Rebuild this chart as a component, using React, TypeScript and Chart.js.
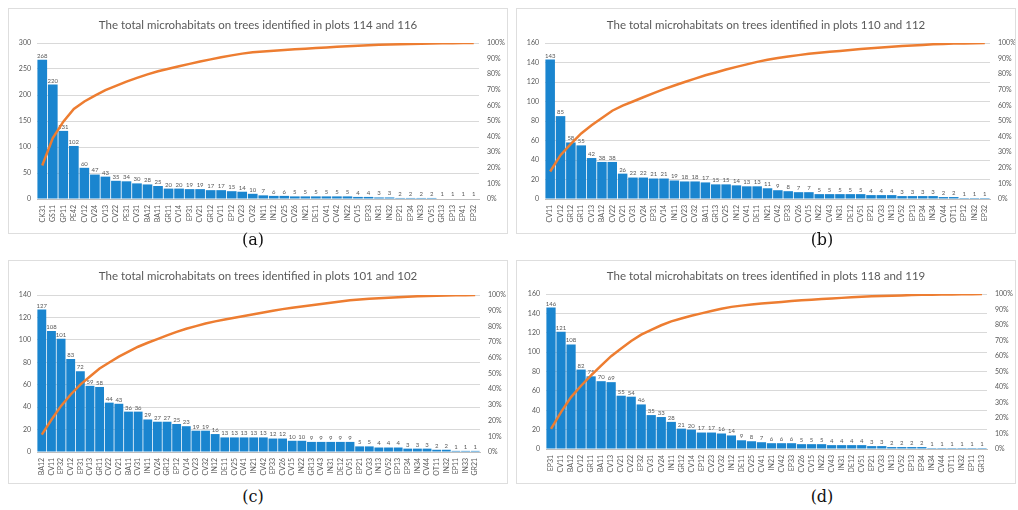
import React, { useEffect, useRef } from "react";
import { Chart, registerables } from "chart.js";
Chart.register(...registerables);
Chart.defaults.font.family = "Lato, 'Liberation Sans', sans-serif";

const titleA = "The total microhabitats on trees identified in plots 114 and 116";
const titleB = "The total microhabitats on trees identified in plots 110 and 112";
const titleC = "The total microhabitats on trees identified in plots 101 and 102";
const titleD = "The total microhabitats on trees identified in plots 118 and 119";

const catsA = ["CK31","GS11","GP11","PE42","CV12","CV24","CV13","CV22","PE31","CV31","BA12","BA11","GR11","CV14","EP31","CV21","GR12","CV11","EP12","CV23","CV32","IN11","IN12","CV25","CV26","IN21","DE11","CV41","CV42","IN22","CV15","EP33","IN31","IN32","EP21","EP34","IN33","CV51","GR13","EP13","EP41","EP32"];
const valsA = [268,220,131,102,60,47,43,35,34,30,28,25,20,20,19,19,17,17,15,14,10,7,6,6,5,5,5,5,5,5,4,4,3,3,2,2,2,2,1,1,1,1];

const catsB = ["CV11","CV12","GR12","GR11","CV13","BA12","CV22","CV21","CV31","CV24","EP31","CV14","IN11","CV23","CV32","BA11","GR13","CV25","IN12","CV41","DE11","IN21","CV42","EP33","CV26","CV15","IN22","CV43","IN31","DE12","CV51","EP21","CV33","IN13","CV52","EP13","EP34","IN34","CV44","OT11","EP12","IN32","EP32"];
const valsB = [143,85,58,55,42,38,38,26,22,22,21,21,19,18,18,17,15,15,14,13,13,11,9,8,7,7,5,5,5,5,5,4,4,4,3,3,3,3,2,2,1,1,1];

const catsC = ["BA12","CV11","EP32","CV12","EP31","CV13","GR11","CV22","CV21","BA11","CV31","IN11","CV24","GR12","EP12","CV14","CV23","CV32","IN12","DE11","CV25","CV41","IN21","CV42","EP33","CV26","CV15","IN22","GR13","CV43","IN31","DE12","CV51","EP21","CV33","IN13","CV52","EP13","EP34","IN34","CV44","OT11","IN32","EP11","IN33","GR21"];
const valsC = [127,108,101,83,72,59,58,44,43,36,36,29,27,27,25,23,19,19,16,13,13,13,13,13,12,12,10,10,9,9,9,9,9,5,5,4,4,4,3,3,3,2,2,1,1,1];

const catsD = ["EP31","CV11","BA12","CV12","GR11","BA11","CV13","CV21","CV22","EP32","CV31","CV24","IN11","GR12","CV14","EP12","CV23","CV32","IN12","DE11","CV25","CV41","IN21","CV42","EP33","CV26","CV15","IN22","CV43","IN31","DE12","CV51","EP21","CV33","IN13","CV52","EP13","EP34","IN34","CV44","OT11","IN32","EP11","GR13"];
const valsD = [146,121,108,82,75,70,69,55,54,46,35,33,28,21,20,17,17,16,14,9,8,7,6,6,6,5,5,5,4,4,4,4,3,3,2,2,2,2,1,1,1,1,1,1];

type Plot = { left: number; right: number; top: number; bottom: number; titleY: number };

function Pareto(props: {
  title: string; cats: string[]; vals: number[]; yMax: number; yStep: number;
  x: number; y: number; w: number; h: number; plot: Plot;
}) {
  const { title, cats, vals, yMax, yStep, x, y, w, h, plot } = props;
  const ref = useRef<HTMLCanvasElement>(null);
  useEffect(() => {
    const total = vals.reduce((a, b) => a + b, 0);
    let run = 0;
    const cum = vals.map((v) => (run += v) / total);
    const labelPlugin = {
      id: "paretoLabels",
      afterDatasetDraw(chart: any, args: any) {
        if (args.index !== 0) return;
        const ctx = chart.ctx;
        ctx.save();
        ctx.font = "6px Lato";
        ctx.fillStyle = "#595959";
        ctx.textAlign = "center";
        ctx.textBaseline = "bottom";
        args.meta.data.forEach((el: any, i: number) => {
          ctx.fillText(String(vals[i]), el.x, el.y - 1);
        });
        ctx.restore();
      },
      afterDraw(chart: any) {
        const ctx = chart.ctx;
        ctx.save();
        ctx.font = "11.5px Lato";
        ctx.fillStyle = "#595959";
        ctx.textAlign = "center";
        ctx.textBaseline = "middle";
        ctx.fillText(title, chart.width / 2, plot.titleY);
        ctx.restore();
      },
    };
    const chart = new Chart(ref.current as HTMLCanvasElement, {
      type: "bar",
      data: {
        labels: cats,
        datasets: [
          {
            type: "bar",
            data: vals,
            backgroundColor: "#1a85cf",
            barPercentage: 0.92,
            categoryPercentage: 1,
            yAxisID: "y",
            order: 2,
          } as any,
          {
            type: "line",
            data: cum,
            borderColor: "#ed7d31",
            borderWidth: 2.5,
            pointRadius: 0,
            yAxisID: "y1",
            order: 1,
            tension: 0,
          } as any,
        ],
      },
      options: {
        responsive: false,
        animation: false,
        devicePixelRatio: 1,
        layout: { padding: { top: plot.top, left: 0, right: 0, bottom: 0 } },
        plugins: { legend: { display: false }, tooltip: { enabled: false }, title: { display: false } },
        scales: {
          x: {
            ticks: { autoSkip: false, minRotation: 90, maxRotation: 90, font: { size: 7 }, color: "#595959", padding: 6 },
            grid: { display: false, drawTicks: false },
            border: { display: true, color: "#bfbfbf" },
            afterFit: (s: any) => { s.height = h - plot.bottom; },
          },
          y: {
            position: "left",
            min: 0,
            max: yMax,
            ticks: { stepSize: yStep, font: { size: 7 }, color: "#595959", padding: 6 },
            grid: { color: "#d9d9d9", drawTicks: false },
            border: { display: false },
            afterFit: (s: any) => { s.width = plot.left; },
          },
          y1: {
            position: "right",
            min: 0,
            max: 1,
            ticks: {
              stepSize: 0.1,
              font: { size: 7 },
              color: "#595959",
              padding: 8,
              callback: (v: any) => Math.round(Number(v) * 100) + "%",
            },
            grid: { display: false, drawTicks: false },
            border: { display: false },
            afterFit: (s: any) => { s.width = w - plot.right; },
          },
        },
      } as any,
      plugins: [labelPlugin],
    });
    return () => chart.destroy();
  }, []);
  return (
    <div style={{ position: "absolute", left: x, top: y, width: w, height: h, boxSizing: "border-box" }}>
      <canvas ref={ref} width={w} height={h} style={{ position: "absolute", left: 0, top: 0, width: w, height: h }} />
      <div style={{ position: "absolute", left: 0, top: 0, width: w, height: h, boxSizing: "border-box", border: "1px solid #dedede", pointerEvents: "none" }} />
    </div>
  );
}

const labelStyle = (cx: number, cy: number): React.CSSProperties => ({
  position: "absolute",
  left: cx - 30,
  top: cy - 11,
  width: 60,
  height: 22,
  lineHeight: "22px",
  textAlign: "center",
  fontFamily: "'DejaVu Serif', serif",
  fontSize: 16,
  color: "#111",
});

export default function App() {
  return (
    <div style={{ position: "absolute", left: 0, top: 0, width: 1018, height: 510, background: "#fff", overflow: "hidden" }}>
      <Pareto title={titleA} cats={catsA} vals={valsA} yMax={300} yStep={50}
        x={8} y={8} w={500} h={226} plot={{ left: 29, right: 471, top: 35, bottom: 191, titleY: 17 }} />
      <Pareto title={titleB} cats={catsB} vals={valsB} yMax={160} yStep={20}
        x={516} y={8} w={500} h={226} plot={{ left: 29, right: 474, top: 35, bottom: 191, titleY: 17 }} />
      <Pareto title={titleC} cats={catsC} vals={valsC} yMax={140} yStep={20}
        x={8} y={260} w={500} h={224} plot={{ left: 29, right: 472, top: 35, bottom: 192, titleY: 16 }} />
      <Pareto title={titleD} cats={catsD} vals={valsD} yMax={160} yStep={20}
        x={516} y={260} w={500} h={224} plot={{ left: 30, right: 471, top: 34, bottom: 189, titleY: 16 }} />
      <div style={labelStyle(253, 240)}>(a)</div>
      <div style={labelStyle(822, 240)}>(b)</div>
      <div style={labelStyle(253, 497)}>(c)</div>
      <div style={labelStyle(822, 497)}>(d)</div>
    </div>
  );
}
